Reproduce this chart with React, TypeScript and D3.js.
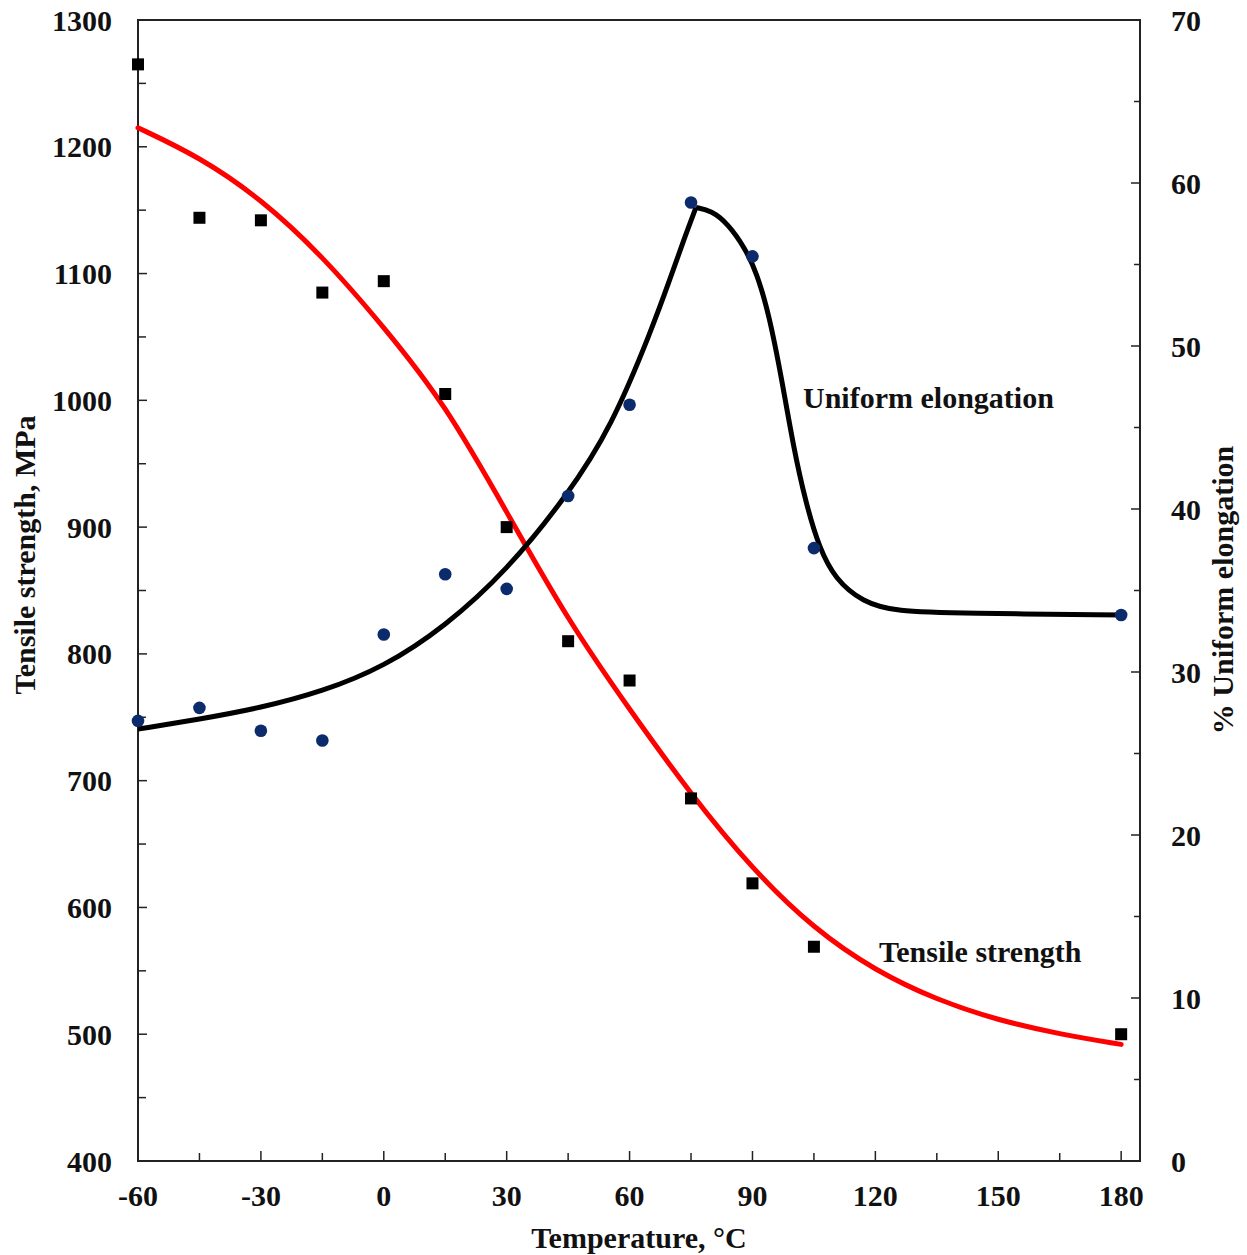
import React from "react";
import * as d3 from "d3";

// Measured data points
const tempPoints = [-60, -45, -30, -15, 0, 15, 30, 45, 60, 75, 90, 105, 180];
const strengthPoints = [1265, 1144, 1142, 1085, 1094, 1005, 900, 810, 779, 686, 619, 569, 500];
const elongPoints = [27.0, 27.8, 26.4, 25.8, 32.3, 36.0, 35.1, 40.8, 46.4, 58.8, 55.5, 37.6, 33.5];

// Fitted curve for tensile strength
const strengthFitTemps = [-60, -45, -30, -15, 0, 15, 30, 45, 60, 75, 90, 105, 120, 135, 150, 165, 180];
const strengthFitValues = [1215, 1192, 1159, 1114, 1058, 997, 912, 826, 756, 689, 630, 583, 550, 527, 511, 500, 492];

// Fitted curve for uniform elongation: rising branch and falling branch (cusp at peak)
const elongRiseTemps = [-60, -45, -30, -15, 0, 15, 30, 45, 55.5, 65.4, 70, 73.5, 76.2];
const elongRiseValues = [26.5, 27.1, 27.8, 28.8, 30.3, 32.8, 36.2, 40.9, 45.0, 51.0, 54.2, 56.7, 58.5];
const elongFallTemps = [76.2, 80, 84, 88.2, 91, 94, 97.2, 100, 103, 106.3, 110.2, 116.8, 124.9, 141.3, 180.5];
const elongFallValues = [58.5, 58.3, 57.5, 56.0, 54.5, 52.0, 47.9, 43.8, 40.4, 37.6, 35.7, 34.3, 33.7, 33.6, 33.5];

const xTicks = [-60, -30, 0, 30, 60, 90, 120, 150, 180];
const xMinorTicks = [-45, -15, 15, 45, 75, 105, 135, 165];
const leftTicks = [400, 500, 600, 700, 800, 900, 1000, 1100, 1200, 1300];
const leftMinorTicks = [450, 550, 650, 750, 850, 950, 1050, 1150, 1250];
const rightTicks = [0, 10, 20, 30, 40, 50, 60, 70];
const rightMinorTicks = [5, 15, 25, 35, 45, 55, 65];

const FONT = "'Liberation Serif', 'Times New Roman', serif";

export default function App() {
  const W = 1247, H = 1255;
  const L = 138, R = 1140, T = 20, B = 1161;
  const x = d3.scaleLinear().domain([-60, 184.6]).range([L, R]);
  const yL = d3.scaleLinear().domain([400, 1300]).range([B, T]);
  const yR = d3.scaleLinear().domain([0, 70]).range([B, T]);

  const strengthLine = d3
    .line<number>()
    .x((_, i) => x(strengthFitTemps[i]))
    .y((d) => yL(d))
    .curve(d3.curveBasis);
  const riseLine = d3
    .line<number>()
    .x((_, i) => x(elongRiseTemps[i]))
    .y((d) => yR(d))
    .curve(d3.curveBasis);
  const fallLine = d3
    .line<number>()
    .x((_, i) => x(elongFallTemps[i]))
    .y((d) => yR(d))
    .curve(d3.curveBasis);

  const axisColor = "#222";
  const fs = 30;

  return (
    <svg
      width={W}
      height={H}
      style={{ position: "absolute", left: 0, top: 0, background: "#fff" }}
      fontFamily={FONT}
      fontWeight="bold"
    >
      <rect x={0} y={0} width={W} height={H} fill="#fff" />

      {/* ticks */}
      <g stroke={axisColor} strokeWidth={1.5}>
        {leftTicks.map((t) => (
          <line key={"l" + t} x1={L} x2={L + 9} y1={yL(t)} y2={yL(t)} />
        ))}
        {leftMinorTicks.map((t) => (
          <line key={"lm" + t} x1={L} x2={L + 8} y1={yL(t)} y2={yL(t)} />
        ))}
        {rightTicks.map((t) => (
          <line key={"r" + t} x1={R} x2={R - 9} y1={yR(t)} y2={yR(t)} />
        ))}
        {rightMinorTicks.map((t) => (
          <line key={"rm" + t} x1={R} x2={R - 6} y1={yR(t)} y2={yR(t)} />
        ))}
        {xTicks.map((t) => (
          <line key={"x" + t} x1={x(t)} x2={x(t)} y1={B} y2={B - 10} />
        ))}
        {xMinorTicks.map((t) => (
          <line key={"xm" + t} x1={x(t)} x2={x(t)} y1={B} y2={B - 8} />
        ))}
      </g>

      {/* frame */}
      <rect x={L} y={T} width={R - L} height={B - T} fill="none" stroke={axisColor} strokeWidth={2} />

      {/* fitted curves */}
      <path d={strengthLine(strengthFitValues) || ""} fill="none" stroke="#ff0000" strokeWidth={5} strokeLinecap="round" />
      <path d={riseLine(elongRiseValues) || ""} fill="none" stroke="#000" strokeWidth={5} />
      <path d={fallLine(elongFallValues) || ""} fill="none" stroke="#000" strokeWidth={5} />

      {/* data points */}
      {tempPoints.map((t, i) => (
        <rect
          key={"s" + i}
          x={x(t) - 6}
          y={yL(strengthPoints[i]) - 6}
          width={12}
          height={12}
          fill="#000"
        />
      ))}
      {tempPoints.map((t, i) => (
        <circle key={"c" + i} cx={x(t)} cy={yR(elongPoints[i])} r={6.3} fill="#0b2b6c" />
      ))}

      {/* tick labels */}
      <g fontSize={fs} fill="#111">
        {leftTicks.map((t) => (
          <text key={"lt" + t} x={112} y={yL(t)} dy="0.35em" textAnchor="end">
            {t}
          </text>
        ))}
        {rightTicks.map((t) => (
          <text key={"rt" + t} x={1171} y={yR(t)} dy="0.35em" textAnchor="start">
            {t}
          </text>
        ))}
        {xTicks.map((t) => (
          <text key={"xt" + t} x={x(t)} y={1206} textAnchor="middle">
            {t}
          </text>
        ))}
      </g>

      {/* axis titles */}
      <g fontSize={fs} fill="#111">
        <text x={(L + R) / 2} y={1248} textAnchor="middle">
          Temperature, °C
        </text>
        <text transform="translate(35,555) rotate(-90)" textAnchor="middle">
          Tensile strength, MPa
        </text>
        <text transform="translate(1233,590) rotate(-90)" textAnchor="middle">
          % Uniform elongation
        </text>
      </g>

      {/* annotations */}
      <g fontSize={fs} fill="#111">
        <text x={803} y={408}>Uniform elongation</text>
        <text x={879} y={962}>Tensile strength</text>
      </g>
    </svg>
  );
}
